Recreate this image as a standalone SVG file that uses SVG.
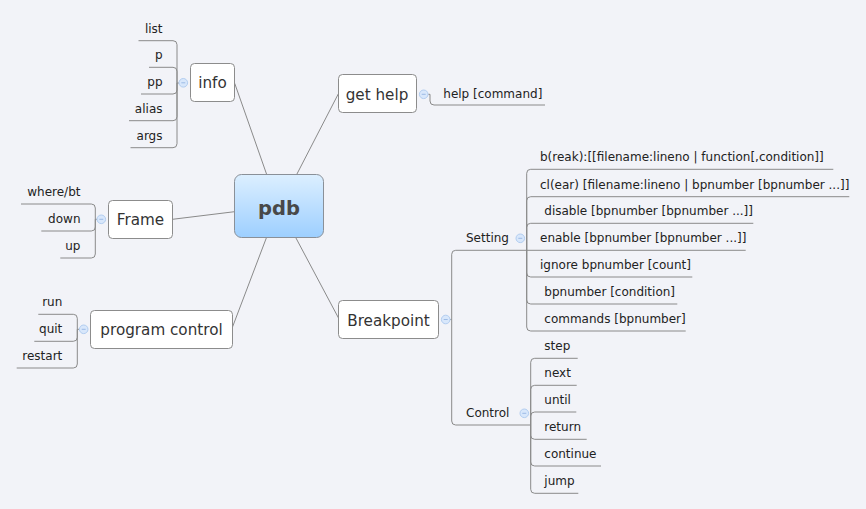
<svg xmlns="http://www.w3.org/2000/svg" width="866" height="509" viewBox="0 0 866 509">
<defs>
<linearGradient id="rootGrad" x1="0" y1="0" x2="0" y2="1">
<stop offset="0" stop-color="#dcefff"/>
<stop offset="1" stop-color="#9dcfff"/>
</linearGradient>
<style>
.bg{fill:#f2f3f8}
.box{fill:#ffffff;stroke:#8c8c8c;stroke-width:1}
.root{fill:url(#rootGrad);stroke:#8a9098;stroke-width:1}
.ln{fill:none;stroke:#8a8a8a;stroke-width:1}
.tr{fill:none;stroke:#8a8a8a;stroke-width:1}
.tog{fill:#d8e7fb;stroke:#b2cdf0;stroke-width:1}
.togm{stroke:#9dbbe6;stroke-width:1}
.nt{font-family:"DejaVu Sans",sans-serif;font-size:15.2px;fill:#333333;text-anchor:middle}
.rt{font-family:"DejaVu Sans",sans-serif;font-size:19.5px;font-weight:bold;fill:#484848;text-anchor:middle}
.ct{font-family:"DejaVu Sans",sans-serif;font-size:12px;fill:#222222}
.e{text-anchor:end}
</style>
</defs>
<rect class="bg" x="0" y="0" width="866" height="509"/>

<g id="connectors">
<path class="ln" d="M234.7 83.3 L266.7 174.5"/>
<path class="ln" d="M338.5 93.5 L296.7 174.5"/>
<path class="ln" d="M172.5 219.3 L234.5 211.7"/>
<path class="ln" d="M232.5 327 L266.5 237.5"/>
<path class="ln" d="M295.7 237.5 L338.5 318"/>
<!-- info -->
<path class="tr" d="M179 83 H177 V44.7 Q177 40.7 173 40.7 H138.5"/>
<path class="tr" d="M177 83 V71.3 Q177 67.3 173 67.3 H149"/>
<path class="tr" d="M177 83 V90 Q177 94 173 94 H141"/>
<path class="tr" d="M177 83 V116.7 Q177 120.7 173 120.7 H129"/>
<path class="tr" d="M177 83 V143.7 Q177 147.7 173 147.7 H130.5"/>
<!-- Frame -->
<path class="tr" d="M97 219.3 H95.3 V208 Q95.3 204 91.3 204 H21"/>
<path class="tr" d="M95.3 219.3 V227 Q95.3 231 91.3 231 H41.3"/>
<path class="tr" d="M95.3 219.3 V254 Q95.3 258 91.3 258 H60.3"/>
<!-- program control -->
<path class="tr" d="M79.2 329.3 H77.3 V318.3 Q77.3 314.3 73.3 314.3 H38.3"/>
<path class="tr" d="M77.3 329.3 V337.3 Q77.3 341.3 73.3 341.3 H34.3"/>
<path class="tr" d="M77.3 329.3 V364 Q77.3 368 73.3 368 H16.7"/>
<!-- get help -->
<path class="tr" d="M428.2 94.3 H430 V101 Q430 105 434 105 H545"/>
<!-- Breakpoint -->
<path class="tr" d="M450.2 319.5 H451.7 V254.3 Q451.7 250.3 455.7 250.3 H526.7"/>
<path class="tr" d="M451.7 319.5 V421 Q451.7 425 455.7 425 H530.7"/>
<!-- Setting -->
<path class="tr" d="M526.7 250.3 V173.3 Q526.7 169.3 530.7 169.3 H833.3"/>
<path class="tr" d="M526.7 250.3 V200.7 Q526.7 196.7 530.7 196.7 H849.3"/>
<path class="tr" d="M526.7 250.3 V227.3 Q526.7 223.3 530.7 223.3 H753.3"/>
<path class="tr" d="M526.7 250.3 H745.7"/>
<path class="tr" d="M526.7 250.3 V273 Q526.7 277 530.7 277 H692.3"/>
<path class="tr" d="M526.7 250.3 V300 Q526.7 304 530.7 304 H677.3"/>
<path class="tr" d="M526.7 250.3 V327 Q526.7 331 530.7 331 H685.7"/>
<!-- Control -->
<path class="tr" d="M530.7 425 V362.3 Q530.7 358.3 534.7 358.3 H577.7"/>
<path class="tr" d="M530.7 425 V389.3 Q530.7 385.3 534.7 385.3 H576.7"/>
<path class="tr" d="M530.7 425 V416 Q530.7 412 534.7 412 H576.3"/>
<path class="tr" d="M530.7 425 V435.3 Q530.7 439.3 534.7 439.3 H586.7"/>
<path class="tr" d="M530.7 425 V462 Q530.7 466 534.7 466 H601"/>
<path class="tr" d="M530.7 425 V489.3 Q530.7 493.3 534.7 493.3 H578.3"/>
</g>

<g id="pdb">
<rect class="root" x="234.5" y="174.5" width="89" height="63" rx="7"/>
<text class="rt" x="279" y="215">pdb</text>
</g>

<g id="info">
<rect class="box" x="190.5" y="63.5" width="44" height="38" rx="4"/>
<text class="nt" x="212.5" y="88.3">info</text>
<circle class="tog" cx="183.3" cy="82.8" r="4.3"/><line class="togm" x1="181.3" y1="82.8" x2="185.3" y2="82.8"/>
</g>
<g id="info-list"><text class="ct e" x="162.5" y="32.7">list</text></g>
<g id="info-p"><text class="ct e" x="162.5" y="59.3">p</text></g>
<g id="info-pp"><text class="ct e" x="162.5" y="86">pp</text></g>
<g id="info-alias"><text class="ct e" x="162.5" y="112.7">alias</text></g>
<g id="info-args"><text class="ct e" x="162.5" y="139.7">args</text></g>

<g id="gethelp">
<rect class="box" x="338.5" y="74.5" width="78" height="38" rx="4"/>
<text class="nt" x="377" y="100">get help</text>
<circle class="tog" cx="423.7" cy="94.3" r="4.3"/><line class="togm" x1="421.7" y1="94.3" x2="425.7" y2="94.3"/>
</g>
<g id="help-command"><text class="ct" x="443.3" y="97.5">help [command]</text></g>

<g id="frame">
<rect class="box" x="108.5" y="200.5" width="64" height="38" rx="4"/>
<text class="nt" x="140.5" y="225">Frame</text>
<circle class="tog" cx="101.3" cy="219.3" r="4.3"/><line class="togm" x1="99.3" y1="219.3" x2="103.3" y2="219.3"/>
</g>
<g id="frame-where"><text class="ct e" x="80.5" y="196">where/bt</text></g>
<g id="frame-down"><text class="ct e" x="80.5" y="223">down</text></g>
<g id="frame-up"><text class="ct e" x="80.5" y="250">up</text></g>

<g id="programcontrol">
<rect class="box" x="90.5" y="310.5" width="142" height="38" rx="4"/>
<text class="nt" x="161.5" y="335">program control</text>
<circle class="tog" cx="83.7" cy="329.3" r="4.3"/><line class="togm" x1="81.7" y1="329.3" x2="85.7" y2="329.3"/>
</g>
<g id="pc-run"><text class="ct e" x="62.3" y="306.3">run</text></g>
<g id="pc-quit"><text class="ct e" x="62.3" y="333.3">quit</text></g>
<g id="pc-restart"><text class="ct e" x="62.3" y="360">restart</text></g>

<g id="breakpoint">
<rect class="box" x="338.5" y="300.5" width="100" height="38" rx="4"/>
<text class="nt" x="388.5" y="325.7">Breakpoint</text>
<circle class="tog" cx="445.7" cy="319.5" r="4.3"/><line class="togm" x1="443.7" y1="319.5" x2="447.7" y2="319.5"/>
</g>

<g id="setting">
<text class="ct" x="466" y="241.7">Setting</text>
<circle class="tog" cx="520.3" cy="238.3" r="4.3"/><line class="togm" x1="518.3" y1="238.3" x2="522.3" y2="238.3"/>
</g>
<g id="s-break"><text class="ct" x="540" y="161.3">b(reak):[[filename:lineno | function[,condition]]</text></g>
<g id="s-clear"><text class="ct" x="540" y="188.7">cl(ear) [filename:lineno | bpnumber [bpnumber ...]]</text></g>
<g id="s-disable"><text class="ct" x="544.3" y="215.3">disable [bpnumber [bpnumber ...]]</text></g>
<g id="s-enable"><text class="ct" x="540" y="242.3">enable [bpnumber [bpnumber ...]]</text></g>
<g id="s-ignore"><text class="ct" x="540" y="269">ignore bpnumber [count]</text></g>
<g id="s-condition"><text class="ct" x="544.3" y="296">bpnumber [condition]</text></g>
<g id="s-commands"><text class="ct" x="544.3" y="323">commands [bpnumber]</text></g>

<g id="control">
<text class="ct" x="466" y="416.7">Control</text>
<circle class="tog" cx="524.3" cy="413.3" r="4.3"/><line class="togm" x1="522.3" y1="413.3" x2="526.3" y2="413.3"/>
</g>
<g id="c-step"><text class="ct" x="544.3" y="350.3">step</text></g>
<g id="c-next"><text class="ct" x="544.3" y="377.3">next</text></g>
<g id="c-until"><text class="ct" x="544.3" y="404">until</text></g>
<g id="c-return"><text class="ct" x="544.3" y="431.3">return</text></g>
<g id="c-continue"><text class="ct" x="544.3" y="458">continue</text></g>
<g id="c-jump"><text class="ct" x="544.3" y="485.3">jump</text></g>
</svg>
